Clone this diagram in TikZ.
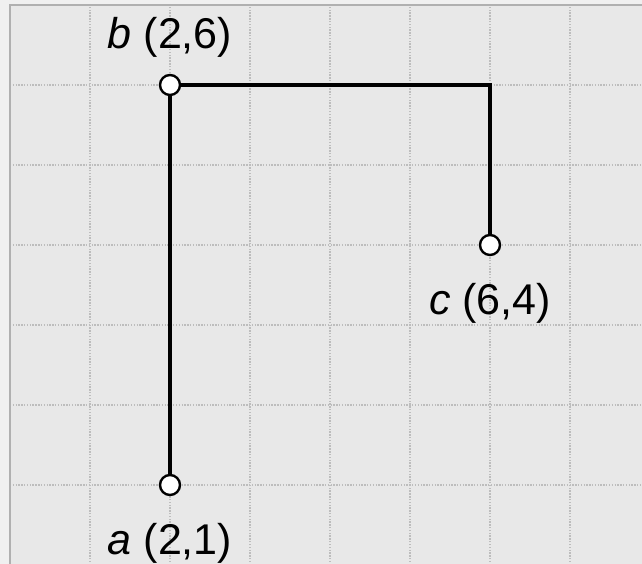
\documentclass[tikz,border=0pt]{standalone}
\usepackage{fontspec}
\setmainfont{Liberation Sans}
\usetikzlibrary{positioning}
\definecolor{panelbg}{HTML}{E8E8E8}
\definecolor{outerbg}{HTML}{F0F0F0}
\definecolor{gridgray}{HTML}{BDBDBD}
\definecolor{framegray}{HTML}{B0B0B0}
\tikzset{
  vertex/.style={
    circle, draw, fill=white, line width=0.85pt,
    minimum size=0.25cm, inner sep=0pt
  },
  seg/.style={line width=1.75pt},
  gridline/.style={gridgray, line width=0.5pt, dash pattern=on 0.5pt off 0.5pt},
  frameline/.style={framegray, line width=0.7pt},
  ptlabel/.style={font=\fontsize{15.3}{18}\selectfont, inner sep=0pt}
}

\begin{document}
\begin{tikzpicture}

\useasboundingbox (-0.125,0.0125) rectangle (7.9,7.0625);
\fill[outerbg] (-0.125,0.0125) rectangle (7.9,7.0625);

% Panel with grid
\fill[panelbg] (0,0) rectangle (8,7);
\draw[gridline] (0,0) grid (8,7);
\draw[frameline] (0,0) rectangle (8,7);

% Points
\node[vertex] (a) at (2,1) {};
\node[vertex] (b) at (2,6) {};
\node[vertex] (c) at (6,4) {};

% Polyline a -> b -> c
\draw[seg] (a) -- (b) -| (c);

% Labels
\node[ptlabel, above=0.2cm of b] (blab) {\textit{b} (2,6)};
\node[ptlabel, below=0.33cm of a] (alab) {\textit{a} (2,1)};
\node[ptlabel, below=0.33cm of c] (clab) {\textit{c} (6,4)};

\end{tikzpicture}
\end{document}
